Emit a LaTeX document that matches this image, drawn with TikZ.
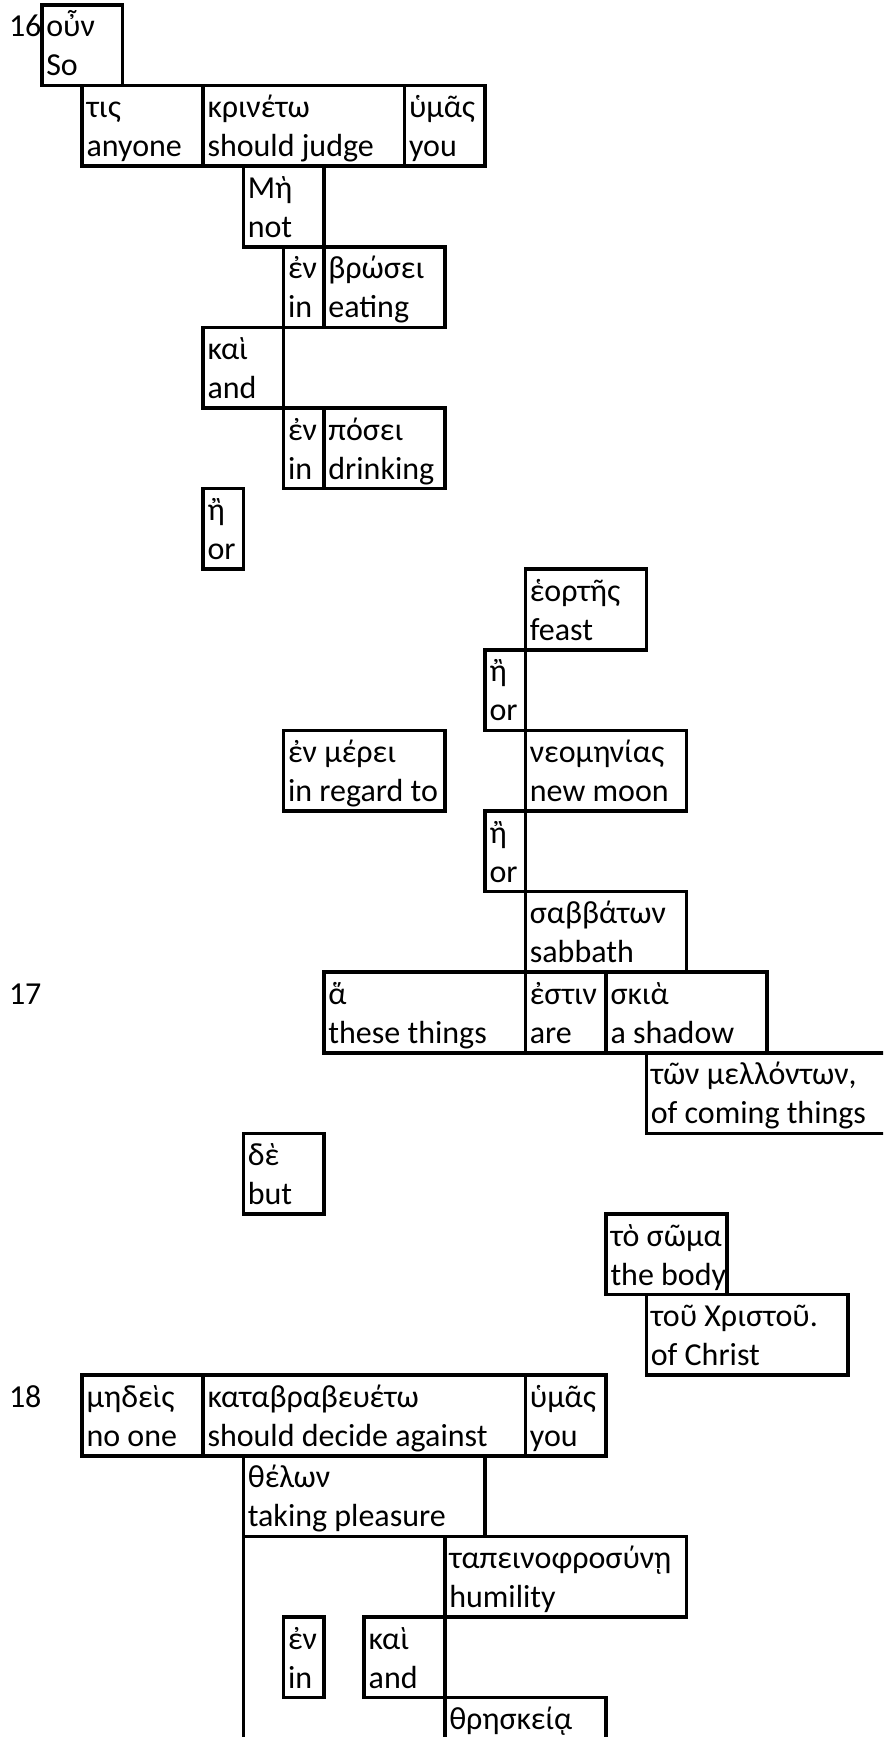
\documentclass[tikz,border=0pt]{standalone}
\usepackage{fontspec}
\setmainfont{Carlito}
\newfontfamily\grk{Carlito}
\usetikzlibrary{calc}
\tikzset{
  wordbox/.style={draw, line width=2.7pt, inner sep=0pt, outer sep=0pt, anchor=north west, minimum height=60.45pt},
  wordtext/.style={inner sep=0pt, outer sep=0pt, anchor=base west, font=\fontsize{24pt}{29pt}\selectfont},
}
\newcommand\wb[6]{%
  \node[wordbox, minimum width={(#3-#2)*30.225pt}] (#1) at ({1.5+40.3*#2},{5+80.6*#4}) {};
  \node[wordtext] (#1g) at ($(#1.north west)+(4.5,32)$) {\grk #5};
  \node[wordtext] (#1e) at ($(#1.north west)+(4.5,71)$) {#6};
}
\begin{document}
\begin{tikzpicture}[x=0.75pt,y=-0.75pt]
\useasboundingbox (0,0) rectangle (883,1737);
\fill[white] (0,0) rectangle (883,1737);
\clip (0,0) rectangle (883,1737);
% verse numbers
\node[wordtext] (v16) at (9,{5+32}) {16};
\node[wordtext] (v17) at (9,{5+80.6*12+32}) {17};
\node[wordtext] (v18) at (9,{5+80.6*17+32}) {18};
% verse 16
\wb{oun}{1}{3}{0}{οὖν}{So}
\wb{tis}{2}{5}{1}{τις}{anyone}
\wb{krineto}{5}{10}{1}{κρινέτω}{should judge}
\wb{hymas}{10}{12}{1}{ὑμᾶς}{you}
\wb{me}{6}{8}{2}{Μὴ}{not}
\wb{en}{7}{8}{3}{ἐν}{in}
\wb{brosei}{8}{11}{3}{βρώσει}{eating}
\wb{kai}{5}{7}{4}{καὶ}{and}
\wb{enb}{7}{8}{5}{ἐν}{in}
\wb{posei}{8}{11}{5}{πόσει}{drinking}
\wb{e}{5}{6}{6}{ἢ}{or}
\wb{heortes}{13}{16}{7}{ἑορτῆς}{feast}
\wb{eb}{12}{13}{8}{ἢ}{or}
\wb{merei}{7}{11}{9}{ἐν μέρει}{in regard to}
\wb{neomenias}{13}{17}{9}{νεομηνίας}{new moon}
\wb{ec}{12}{13}{10}{ἢ}{or}
\wb{sabbaton}{13}{17}{11}{σαββάτων}{sabbath}
% verse 17
\wb{ha}{8}{13}{12}{ἅ}{these things}
\wb{estin}{13}{15}{12}{ἐστιν}{are}
\wb{skia}{15}{19}{12}{σκιὰ}{a shadow}
\wb{mellonton}{16}{22}{13}{τῶν μελλόντων,}{of coming things}
\wb{de}{6}{8}{14}{δὲ}{but}
\wb{soma}{15}{18}{15}{τὸ σῶμα}{the body}
\wb{christou}{16}{21}{16}{τοῦ Χριστοῦ.}{of Christ}
% verse 18
\wb{medeis}{2}{5}{17}{μηδεὶς}{no one}
\wb{katabr}{5}{13}{17}{καταβραβευέτω}{should decide against}
\wb{hymasb}{13}{15}{17}{ὑμᾶς}{you}
\wb{thelon}{6}{12}{18}{θέλων}{taking pleasure}
\node[wordbox, minimum width={5*30.225pt}, minimum height={3*60.45pt}] (frame) at ({1.5+40.3*6},{5+80.6*19}) {};
\wb{tapein}{11}{17}{19}{ταπεινοφροσύνῃ}{humility}
\wb{enc}{7}{8}{20}{ἐν}{in}
\wb{kaib}{9}{11}{20}{καὶ}{and}
\wb{threskeia}{11}{15}{21}{θρησκείᾳ}{}
\end{tikzpicture}
\end{document}
